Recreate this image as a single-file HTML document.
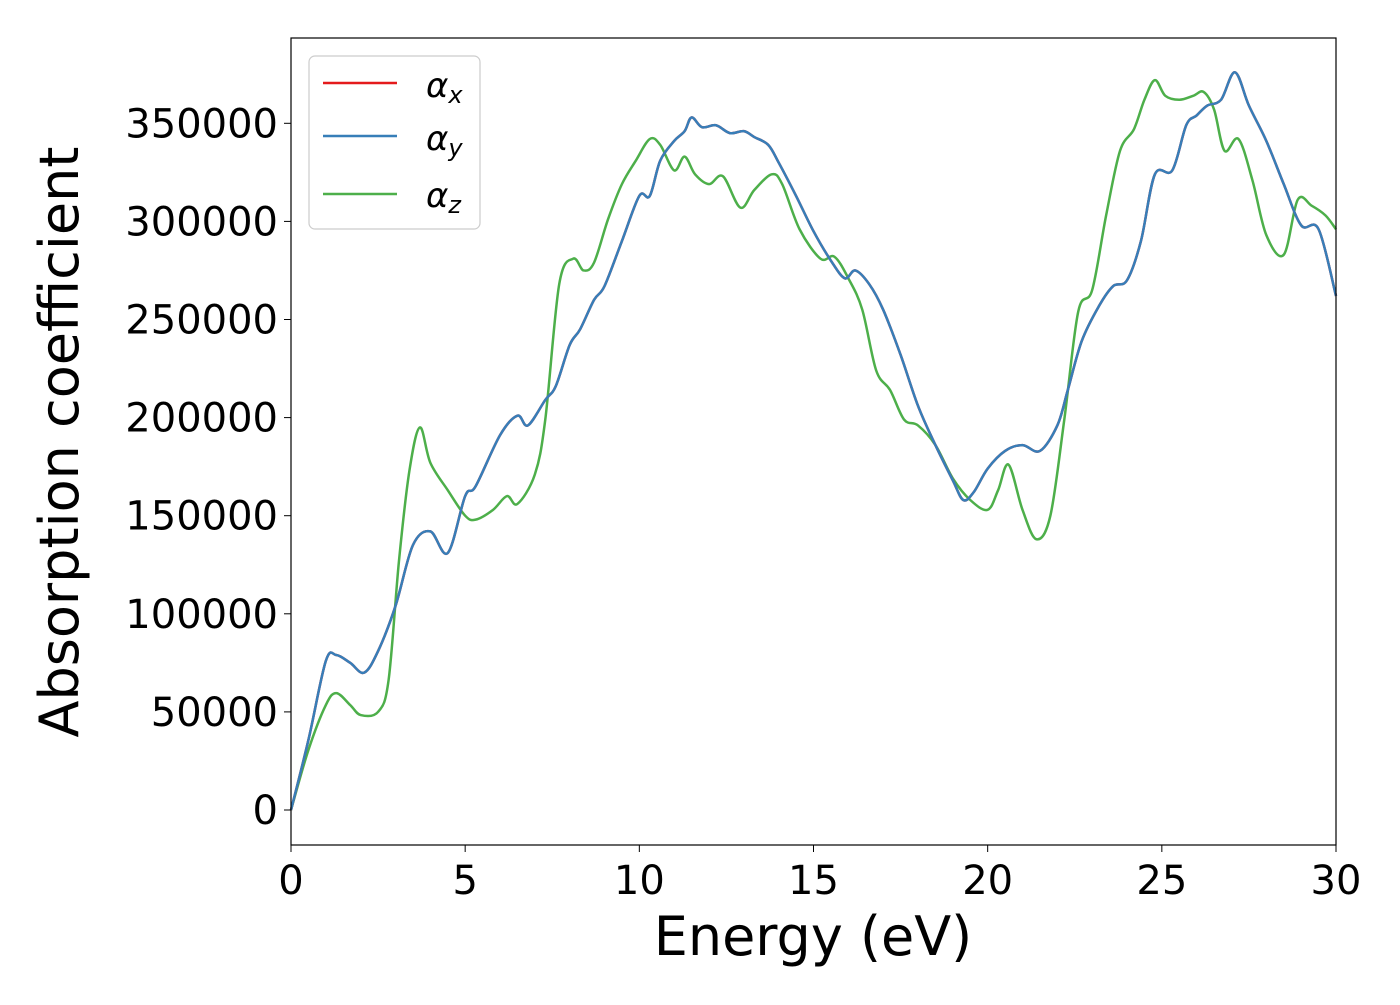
<!DOCTYPE html>
<html><head><meta charset="utf-8"><style>
html,body{margin:0;padding:0;background:#fff;}
svg text{font-family:"DejaVu Sans","Liberation Sans",sans-serif;fill:#000;}
</style></head><body>
<svg id="chart" width="1400" height="1000" xmlns="http://www.w3.org/2000/svg">
<rect x="0" y="0" width="1400" height="1000" fill="#fff"/>
<g id="plot"></g>
<rect x="291" y="38" width="1045" height="807" fill="none" stroke="#000" stroke-width="1.2"/>
<g id="xticks"></g><g id="yticks"></g>
<text x="813" y="955" font-size="54" text-anchor="middle">Energy (eV)</text>
<text transform="translate(78,442) rotate(-90)" font-size="54" text-anchor="middle">Absorption coefficient</text>
<g>
<rect x="309" y="56" width="171" height="173" rx="6" fill="#fff" fill-opacity="0.8" stroke="#ccc" stroke-width="1.2"/>
<line x1="323" y1="83" x2="397" y2="83" stroke="#e41a1c" stroke-width="2.5"/>
<line x1="323" y1="136" x2="397" y2="136" stroke="#377eb8" stroke-width="2.5"/>
<line x1="323" y1="194" x2="397" y2="194" stroke="#4daf4a" stroke-width="2.5"/>
<text x="426" y="97" font-size="34" font-style="italic">α<tspan font-size="24" dy="6">x</tspan></text>
<text x="426" y="150" font-size="34" font-style="italic">α<tspan font-size="24" dy="6">y</tspan></text>
<text x="426" y="207" font-size="34" font-style="italic">α<tspan font-size="24" dy="6">z</tspan></text>
</g>
</svg>
<script>
const xTicks=[0,5,10,15,20,25,30];
const yTicks=[0,50000,100000,150000,200000,250000,300000,350000];
const energyXY=[0,0.5,1,1.3,1.7,2.1,2.5,3,3.5,4,4.5,5,5.3,6,6.5,6.8,7.3,7.6,8,8.3,8.7,9,9.5,10,10.3,10.6,11,11.3,11.5,11.8,12.2,12.6,13,13.3,13.7,14,14.5,15,15.5,15.9,16.2,16.6,17,17.5,18,18.5,19,19.3,19.6,20,20.5,21,21.5,22,22.3,22.7,23.2,23.6,24,24.4,24.8,25.3,25.7,26,26.3,26.7,27.1,27.5,28,28.5,29,29.5,30];
const alphaXY=[0,35700,76000,79000,75000,70000,81000,104000,135000,142000,131000,160000,165000,191000,201000,196000,209000,216000,237000,245000,260000,267000,290000,313000,313000,331000,341000,346000,353000,348000,349000,345000,346000,343000,339000,330000,313000,295000,280000,271000,275000,268000,255000,232000,206000,186000,168000,158000,162000,174000,183000,186000,183000,196000,214000,239000,257000,267000,270000,290000,324000,326000,349000,354000,359000,362000,376000,359000,341000,319000,298000,296000,262000];
const energyZ=[0,0.5,1,1.3,1.7,2,2.5,2.8,3.1,3.4,3.7,4,4.5,5,5.3,5.8,6.2,6.5,7,7.3,7.7,8.1,8.4,8.7,9.1,9.5,9.9,10.3,10.6,11,11.3,11.6,12,12.4,12.9,13.3,13.8,14.1,14.6,15.2,15.6,16,16.4,16.8,17.2,17.6,18,18.5,19,19.5,20,20.3,20.6,21,21.4,21.8,22.2,22.6,23,23.4,23.8,24.2,24.5,24.8,25.1,25.5,25.9,26.2,26.5,26.8,27.2,27.6,28,28.5,28.9,29.3,29.7,30];
const alphaZ=[0,30600,53500,59600,53500,48400,50000,66000,127000,173000,195000,177000,163000,150000,148000,153000,160000,156000,171000,199000,268000,281000,275000,279000,301000,319000,331000,342000,339000,326000,333000,324000,319000,323000,307000,316000,324000,319000,296000,281000,282000,271000,255000,224000,214000,199000,196000,186000,169000,158000,153000,163000,176000,153000,138000,150000,199000,254000,265000,303000,336000,347000,362000,372000,364000,362000,364000,366000,357000,336000,342000,321000,293000,283000,311000,308000,303000,296000];
const X0=291,X1=1336,Y0=810,YPER=98.1/50000;
const sx=v=>X0+(v/30)*(X1-X0);
const sy=v=>Y0-v*YPER;
const NS='http://www.w3.org/2000/svg';
function smoothPath(xs,ys){
  const p=xs.map((x,i)=>[sx(x),sy(ys[i])]);
  let d=`M${p[0][0]},${p[0][1]}`;
  for(let i=0;i<p.length-1;i++){
    const a=p[i-1]||p[i],b=p[i],c=p[i+1],e=p[i+2]||c;
    d+=` C${b[0]+(c[0]-a[0])/6},${b[1]+(c[1]-a[1])/6} ${c[0]-(e[0]-b[0])/6},${c[1]-(e[1]-b[1])/6} ${c[0]},${c[1]}`;
  }
  return d;
}
const plot=document.getElementById('plot');
const series=[[energyZ,alphaZ,'#4daf4a','series-alpha-z'],[energyXY,alphaXY,'#e41a1c','series-alpha-x'],[energyXY,alphaXY,'#377eb8','series-alpha-y']];
series.forEach(s=>{
  const path=document.createElementNS(NS,'path');
  path.setAttribute('d',smoothPath(s[0],s[1]));
  path.setAttribute('fill','none');
  path.setAttribute('stroke',s[2]);
  path.setAttribute('stroke-width','2.5');
  
  
  plot.appendChild(path);
});
const xg=document.getElementById('xticks');
xTicks.forEach(t=>{
  const l=document.createElementNS(NS,'line');
  l.setAttribute('x1',sx(t));l.setAttribute('x2',sx(t));l.setAttribute('y1',845);l.setAttribute('y2',852);l.setAttribute('stroke','#000');
  
  
  xg.appendChild(l);
  const tx=document.createElementNS(NS,'text');
  tx.setAttribute('x',sx(t));tx.setAttribute('y',894);tx.setAttribute('font-size','40');tx.setAttribute('text-anchor','middle');
  tx.textContent=t;
  
  
  xg.appendChild(tx);
});
const yg=document.getElementById('yticks');
yTicks.forEach(t=>{
  const l=document.createElementNS(NS,'line');
  l.setAttribute('x1',284);l.setAttribute('x2',291);l.setAttribute('y1',sy(t));l.setAttribute('y2',sy(t));l.setAttribute('stroke','#000');
  
  
  yg.appendChild(l);
  const tx=document.createElementNS(NS,'text');
  tx.setAttribute('x',278);tx.setAttribute('y',sy(t)+14);tx.setAttribute('font-size','40');tx.setAttribute('text-anchor','end');
  tx.textContent=t;
  
  
  yg.appendChild(tx);
});
</script>
</body></html>
